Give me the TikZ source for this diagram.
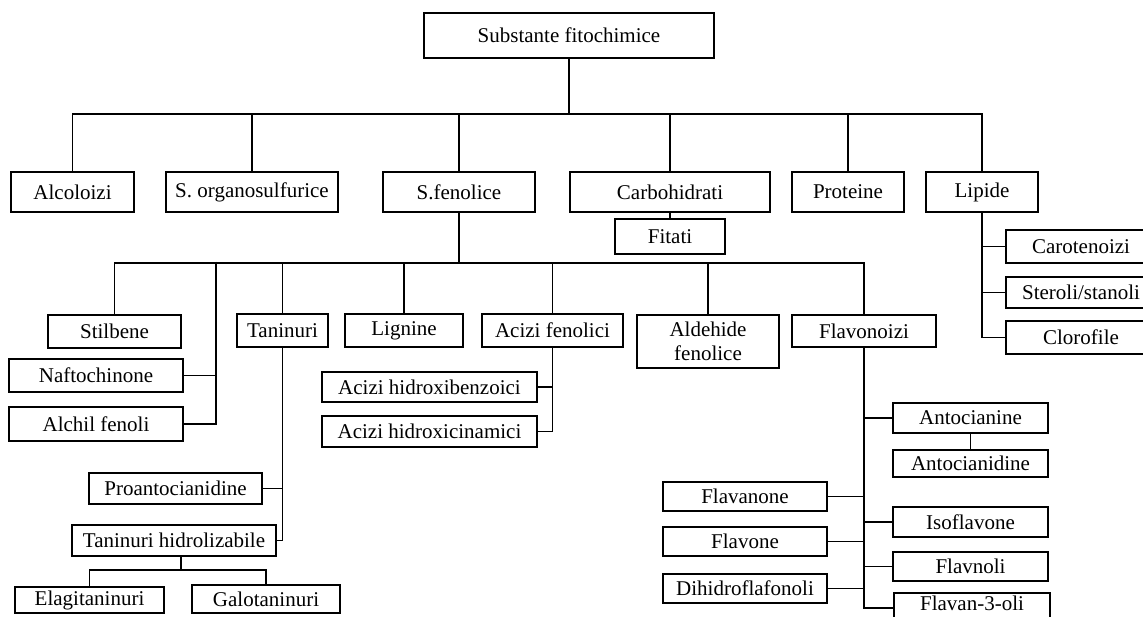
\documentclass[tikz,border=0pt]{standalone}
\usepackage{fontspec}
\setmainfont{Liberation Serif}
\usepackage{tikz}

\begin{document}
\begin{tikzpicture}[x=1pt, y=-1pt, line width=1.9pt, inner sep=0pt]
    \useasboundingbox (0,0) rectangle (1143,617);
    \clip (0,0) rectangle (1143,617);

    \tikzstyle{box}=[draw, font=\fontsize{21}{24}\selectfont];

    % top
    \node[box, minimum width=290, minimum height=45] (root) at (569,35.5) {Substante fitochimice};

    % first row
    \node[box, minimum width=123, minimum height=40] (alc) at (72.5,192) {Alcoloizi};
    \node[box, minimum width=172, minimum height=40] (sorg) at (252,192) {S. organosulfurice};
    \node[box, minimum width=152, minimum height=40] (sfen) at (459,192) {S.fenolice};
    \node[box, minimum width=200, minimum height=40] (carb) at (670,192) {Carbohidrati};
    \node[box, minimum width=112, minimum height=40] (prot) at (848,192) {Proteine};
    \node[box, minimum width=112, minimum height=40] (lip) at (982,192) {Lipide};
    \node[box, minimum width=110, minimum height=35] (fit) at (670,236.5) {Fitati};

    % lipide
    \node[box, minimum width=150, minimum height=33] (car) at (1081,246.5) {Carotenoizi};
    \node[box, minimum width=150, minimum height=31] (ster) at (1081,292.5) {Steroli/stanoli};
    \node[box, minimum width=150, minimum height=33] (clo) at (1081,337.5) {Clorofile};

    % second row
    \node[box, minimum width=133, minimum height=33] (stil) at (114.5,331.5) {Stilbene};
    \node[box, minimum width=91, minimum height=33] (tan) at (282.5,330.5) {Taninuri};
    \node[box, minimum width=118, minimum height=33] (lig) at (404,330.5) {Lignine};
    \node[box, minimum width=141, minimum height=33] (acf) at (552.5,330.5) {Acizi fenolici};
    \node[box, minimum width=142, minimum height=53, align=center] (ald) at (708,341.5) {Aldehide\\fenolice};
    \node[box, minimum width=144, minimum height=32] (flv) at (864,331) {Flavonoizi};

    \node[box, minimum width=174, minimum height=33] (naf) at (96,375.5) {Naftochinone};
    \node[box, minimum width=174, minimum height=34] (alch) at (96,424) {Alchil fenoli};

    % taninuri
    \node[box, minimum width=173, minimum height=31] (proa) at (175.5,488.5) {Proantocianidine};
    \node[box, minimum width=204, minimum height=31] (tanh) at (174,540.5) {Taninuri hidrolizabile};
    \node[box, minimum width=149, minimum height=26] (elag) at (89.5,600) {Elagitaninuri};
    \node[box, minimum width=148, minimum height=28] (galo) at (266,599) {Galotaninuri};

    % acizi
    \node[box, minimum width=215, minimum height=30] (ahb) at (429.5,387) {Acizi hidroxibenzoici};
    \node[box, minimum width=215, minimum height=31] (ahc) at (429.5,431.5) {Acizi hidroxicinamici};

    % flavonoizi
    \node[box, minimum width=155, minimum height=30] (antn) at (970.5,418) {Antocianine};
    \node[box, minimum width=155, minimum height=27] (antd) at (970.5,463.5) {Antocianidine};
    \node[box, minimum width=155, minimum height=30] (iso) at (970.5,522) {Isoflavone};
    \node[box, minimum width=155, minimum height=29] (fln) at (970.5,566.5) {Flavnoli};
    \node[box, minimum width=156, minimum height=30, text depth=10pt] (f3o) at (972,608) {Flavan-3-oli};
    \node[box, minimum width=164, minimum height=29] (fnon) at (745,496.5) {Flavanone};
    \node[box, minimum width=164, minimum height=29] (fone) at (745,541.5) {Flavone};
    \node[box, minimum width=164, minimum height=29] (dih) at (745,588.5) {Dihidroflafonoli};

    % connectors
    \foreach \c in {alc,sorg,sfen,carb,prot,lip}
        \draw (root.south) -- ++(0,55) -| (\c.north);
    \draw (carb.south) -- (fit.north);
    \foreach \c in {car,ster,clo}
        \draw (lip.south) |- (\c.west);

    \foreach \c in {stil,tan,lig,acf,ald,flv}
        \draw (sfen.south) -- ++(0,50) -| (\c.north);
    \coordinate (nb) at (216,262);
    \draw (nb) |- (naf.east);
    \draw (nb) |- (alch.east);

    \draw (tan.south) |- (proa.east);
    \draw (tan.south) |- (tanh.east);
    \draw ([xshift=7]tanh.south) -- ++(0,13) -| (elag.north);
    \draw ([xshift=7]tanh.south) -- ++(0,13) -| (galo.north);

    \draw (acf.south) |- (ahb.east);
    \draw (acf.south) |- (ahc.east);

    \foreach \c in {antn,iso,fln,f3o}
        \draw (flv.south) |- (\c.west);
    \foreach \c in {fnon,fone,dih}
        \draw (flv.south) |- (\c.east);
    \draw (antn.south) -- (antd.north);
\end{tikzpicture}
\end{document}
